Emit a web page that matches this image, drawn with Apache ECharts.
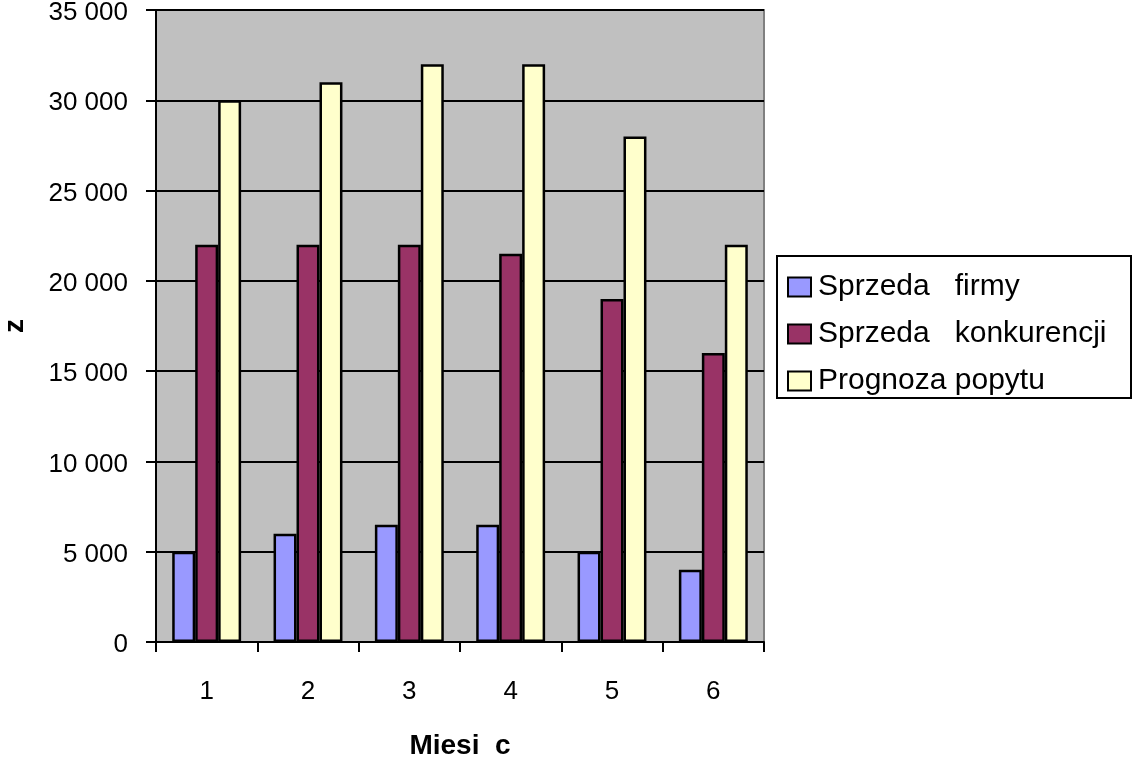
<!DOCTYPE html>
<html>
<head>
<meta charset="utf-8">
<script src="https://cdn.jsdelivr.net/npm/echarts@6/dist/echarts.min.js"></script>
<style>html,body{margin:0;padding:0;background:#fff;}#c{width:1132px;height:762px;}</style>
</head>
<body>
<div id="c"></div>
<script>
var categories = ['1', '2', '3', '4', '5', '6'];
var seriesNames = ['Sprzeda   firmy', 'Sprzeda   konkurencji', 'Prognoza popytu'];
var firmSales = [5000, 6000, 6500, 6500, 5000, 4000];
var competitorSales = [22000, 22000, 22000, 21500, 19000, 16000];
var demandForecast = [30000, 31000, 32000, 32000, 28000, 22000];
var yTicks = [0, 5000, 10000, 15000, 20000, 25000, 30000, 35000];
var colors = ['#9999FF', '#993366', '#FFFFCC'];

var chart = echarts.init(document.getElementById('c'), null, {renderer: 'canvas'});
var font = 'Liberation Sans, Arial, sans-serif';
function fmt(v) {
  var s = String(v);
  if (s.length > 3) s = s.slice(0, s.length - 3) + ' ' + s.slice(s.length - 3);
  return s;
}
function mk(name, data, color) {
  return {
    name: name, type: 'bar', data: data,
    barGap: '0%', barCategoryGap: '32%',
    itemStyle: {color: color, borderColor: '#000', borderWidth: 2.5},
    emphasis: {disabled: true}
  };
}
chart.setOption({
  animation: false,
  textStyle: {fontFamily: font},
  grid: {left: 156, right: 368, top: 10, bottom: 120, show: true,
    containLabel: false, outerBoundsMode: 'none',
    backgroundColor: '#C0C0C0', borderColor: '#808080', borderWidth: 2},
  graphic: [{type: 'rect', left: 776, top: 255, z: 0,
    shape: {width: 354, height: 142},
    style: {fill: '#fff', stroke: '#000', lineWidth: 2}}],
  legend: {
    orient: 'vertical', left: 776, top: 255, padding: [17, 10, 10, 11],
    itemWidth: 23, itemHeight: 19, itemGap: 17, icon: 'rect',
    textStyle: {fontSize: 30, color: '#000', fontFamily: font, padding: [0, 0, 0, 2]},
    data: seriesNames
  },
  xAxis: {
    type: 'category', data: categories,
    name: 'Miesi  c', nameLocation: 'middle', nameGap: 90,
    nameTextStyle: {fontSize: 28, fontWeight: 'bold', color: '#000', fontFamily: font},
    axisLine: {lineStyle: {color: '#000', width: 2}},
    axisTick: {show: true, length: 10, lineStyle: {color: '#000', width: 2}},
    axisLabel: {fontSize: 26, color: '#000', margin: 37, fontFamily: font},
    splitLine: {show: false}
  },
  yAxis: {
    type: 'value', min: yTicks[0], max: yTicks[yTicks.length - 1], interval: 5000,
    name: 'z', nameLocation: 'middle', nameGap: 127, nameRotate: 90,
    nameTextStyle: {fontSize: 28, fontWeight: 'bold', color: '#000', fontFamily: font},
    axisLine: {show: true, lineStyle: {color: '#000', width: 2}},
    axisTick: {show: true, length: 10, lineStyle: {color: '#000', width: 2}},
    axisLabel: {fontSize: 26, color: '#000', margin: 28, fontFamily: font, formatter: fmt,
      verticalAlign: 'top', lineHeight: 26, padding: [-10, 0, 0, 0]},
    splitLine: {show: true, lineStyle: {color: '#000', width: 2}}
  },
  series: [
    mk(seriesNames[0], firmSales, colors[0]),
    mk(seriesNames[1], competitorSales, colors[1]),
    mk(seriesNames[2], demandForecast, colors[2])
  ]
});
</script>
</body>
</html>
